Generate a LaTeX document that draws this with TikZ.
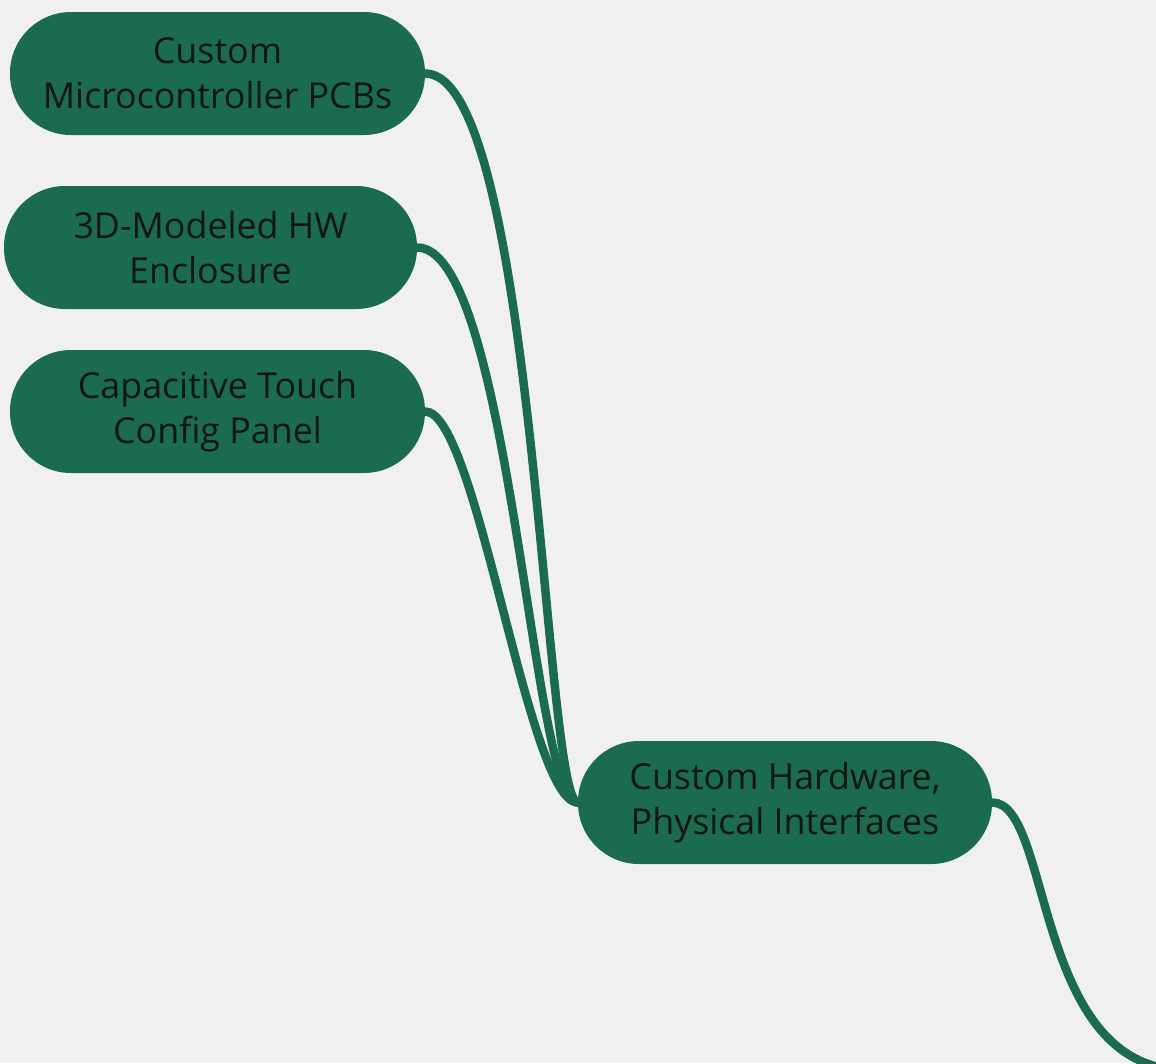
\documentclass[tikz,border=0pt]{standalone}
\usepackage{fontspec}
\setmainfont{Open Sans}
\definecolor{bgc}{RGB}{240,240,240}
\definecolor{nodegreen}{RGB}{27,107,80}
\definecolor{txt}{RGB}{16,22,18}
\begin{document}
\begin{tikzpicture}[x=1pt,y=-1pt,
  topic/.style={fill=nodegreen, rounded corners=61pt, minimum width=415pt, minimum height=123pt,
    inner sep=0pt, align=center, text=txt, font=\fontsize{35.8}{45}\selectfont},
  link/.style={draw=nodegreen, line width=8.5pt, line cap=round}]
\fill[bgc] (0,0) rectangle (1156,1063);
\useasboundingbox (0,0) rectangle (1156,1063);
\clip (0,0) rectangle (1156,1063);
\node[topic] (n1) at (217.5,73.5) {Custom\\Microcontroller PCBs};
\node[topic, minimum width=413pt] (n2) at (210.5,247.5) {3D-Modeled HW\\Enclosure};
\node[topic] (n3) at (217.5,411.5) {Capacitive Touch\\Config Panel};
\node[topic, minimum width=414pt] (hub) at (785,802.5) {Custom Hardware,\\Physical Interfaces};
\coordinate (next) at (1185,1070);
\draw[link] (n1.east) .. controls +(110,0) and +(-34,0) .. (hub.west);
\draw[link] (n2.east) .. controls +(93,0) and +(-46,0) .. (hub.west);
\draw[link] (n3.east) .. controls +(52,0) and +(-50,0) .. (hub.west);
\draw[link] (hub.east) .. controls +(60,0) and +(-152,0) .. (next);
\end{tikzpicture}
\end{document}
